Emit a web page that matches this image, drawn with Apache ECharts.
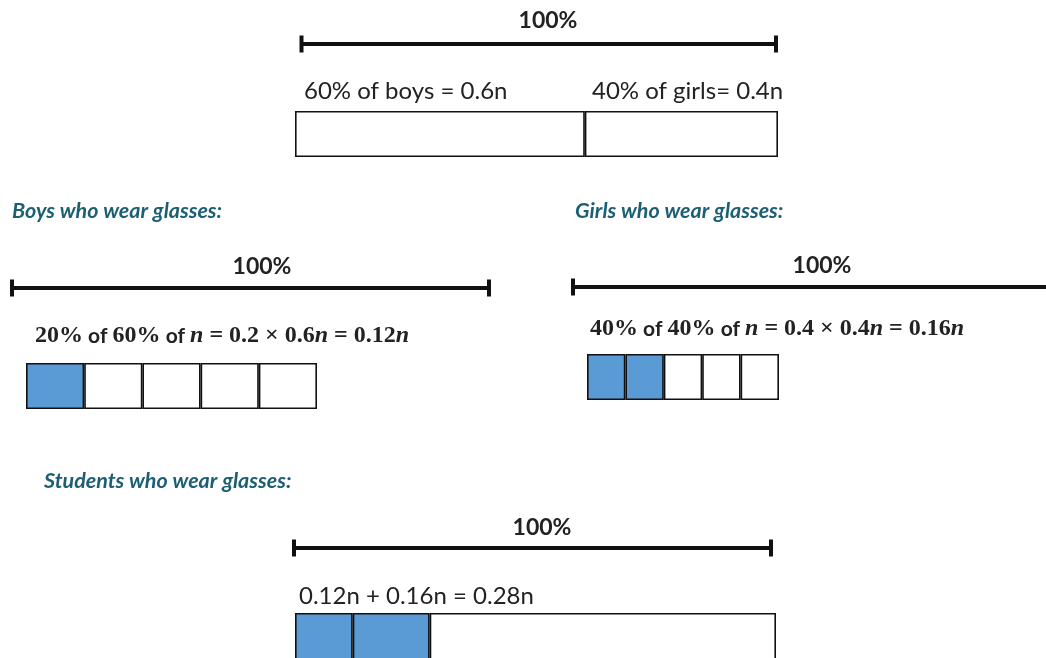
<!DOCTYPE html>
<html><head><meta charset="utf-8">
<script src="https://cdn.jsdelivr.net/npm/echarts@6/dist/echarts.min.js"></script>
<style>html,body{margin:0;padding:0;background:#fff;overflow:hidden}#c{width:1046px;height:658px}</style>
</head><body><div id="c"></div>
<script>
// ---- data ----
const wholeParts = [0.6, 0.4];
const wholeShaded = [false, false];
const wholeLabels = ['60% of boys = 0.6n', '40% of girls= 0.4n'];
const boysParts = [1, 1, 1, 1, 1];
const boysShaded = [true, false, false, false, false];
const girlsParts = [1, 1, 1, 1, 1];
const girlsShaded = [true, true, false, false, false];
const studentParts = [0.12, 0.16, 0.72];
const studentShaded = [true, true, false];
const bracketSpan = [0, 100];
const bracketLabel = '100%';
const titles = ['Boys who wear glasses:', 'Girls who wear glasses:', 'Students who wear glasses:'];
const studentSum = '0.12n + 0.16n = 0.28n';

// ---- layout ----
const BLUE = '#5B9BD5', TEAL = '#1C5F74';
const diagrams = [
  {parts: wholeParts, shaded: wholeShaded, bar: {left: 295, top: 111, width: 483, height: 46}, br: {left: 301.5, width: 474.5, y: 44}},
  {parts: boysParts, shaded: boysShaded, bar: {left: 26, top: 363, width: 291, height: 46}, br: {left: 12, width: 477, y: 288}},
  {parts: girlsParts, shaded: girlsShaded, bar: {left: 587, top: 354, width: 192, height: 46}, br: {left: 573, width: 477, y: 287}},
  {parts: studentParts, shaded: studentShaded, bar: {left: 295, top: 613, width: 481, height: 70}, br: {left: 294, width: 477, y: 548}}
];

const grid = [], xAxis = [], yAxis = [], series = [];
diagrams.forEach((d, i) => {
  const total = d.parts.reduce((a, b) => a + b, 0);
  let gi = grid.length;
  grid.push({left: d.bar.left, top: d.bar.top, width: d.bar.width, height: d.bar.height, outerBoundsMode: 'none', containLabel: false});
  xAxis.push({type: 'value', gridIndex: gi, min: 0, max: total, show: false});
  yAxis.push({type: 'category', gridIndex: gi, data: ['t'], show: false});
  d.parts.forEach((p, k) => {
    series.push({type: 'bar', xAxisIndex: gi, yAxisIndex: gi, stack: 's' + i, data: [p], barWidth: '100%',
      silent: true, animation: false,
      itemStyle: {color: d.shaded[k] ? BLUE : '#fff', borderColor: '#111', borderWidth: 1.6}});
  });
  gi = grid.length;
  grid.push({left: d.br.left, top: d.br.y - 10, width: d.br.width, height: 20, outerBoundsMode: 'none', containLabel: false});
  xAxis.push({type: 'value', gridIndex: gi, min: bracketSpan[0], max: bracketSpan[1], show: false});
  yAxis.push({type: 'value', gridIndex: gi, min: -1, max: 1, show: false});
  series.push({type: 'line', xAxisIndex: gi, yAxisIndex: gi, data: bracketSpan.map(v => [v, 0]),
    symbol: 'rect', symbolSize: [4, 17], showSymbol: true, silent: true, animation: false, clip: false,
    lineStyle: {color: '#111', width: 4}, itemStyle: {color: '#111'}});
});

const sans = 'Lato, "Open Sans", sans-serif';
function txt(text, x, y, size, weight, opts) {
  return {type: 'text', x: x, y: y, silent: true,
    style: Object.assign({text: text, font: (opts && opts.italic ? 'italic ' : '') + weight + ' ' + size + 'px ' + sans,
      fill: '#222', align: 'left', verticalAlign: 'middle'}, opts && opts.style)};
}
function formula(a, b, c, d, r, x, y) {
  const ser = '"Liberation Serif", "DejaVu Serif", serif';
  return {type: 'text', x: x, y: y, silent: true, style: {
    text: '{m|' + a + '}{s| of }{m|' + b + '}{s| of }{i|n}{m| = ' + c + ' × ' + d + '}{i|n}{m| = ' + r + '}{i|n}',
    verticalAlign: 'middle', align: 'left',
    rich: {
      m: {font: 'bold 24px ' + ser, fill: '#222'},
      s: {font: 'bold 21px ' + sans, fill: '#222'},
      i: {font: 'italic bold 24px ' + ser, fill: '#222'}
    }}};
}

const graphic = [
  txt(bracketLabel, 548, 21, 23, 'bold', {style: {align: 'center'}}),
  txt(wholeLabels[0], 304, 91, 24, 'normal'),
  txt(wholeLabels[1], 592, 91, 24, 'normal'),
  txt(titles[0], 12, 211, 21.5, 'bold', {italic: true, style: {fill: TEAL}}),
  txt(titles[1], 575, 211, 21.5, 'bold', {italic: true, style: {fill: TEAL}}),
  txt(bracketLabel, 262, 267, 23, 'bold', {style: {align: 'center'}}),
  txt(bracketLabel, 822, 266, 23, 'bold', {style: {align: 'center'}}),
  formula('20%', '60%', '0.2', '0.6', '0.12', 35, 336),
  formula('40%', '40%', '0.4', '0.4', '0.16', 590, 329),
  txt(titles[2], 44, 481, 21.5, 'bold', {italic: true, style: {fill: TEAL}}),
  txt(bracketLabel, 542, 528, 23, 'bold', {style: {align: 'center'}}),
  txt(studentSum, 299, 596, 24, 'normal')
];

const chart = echarts.init(document.getElementById('c'), null, {renderer: 'canvas'});
chart.setOption({animation: false, backgroundColor: '#fff', grid, xAxis, yAxis, series, graphic});
</script></body></html>
